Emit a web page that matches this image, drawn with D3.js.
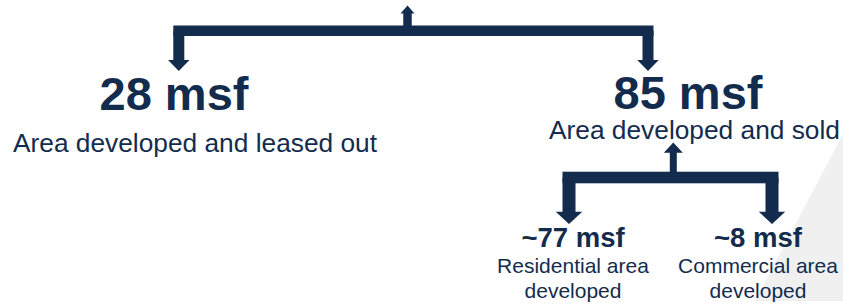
<!DOCTYPE html>
<html>
<head>
<meta charset="utf-8">
<script src="https://cdn.jsdelivr.net/npm/d3@7"></script>
<style>
  body { margin: 0; background: #fff; }
  svg { display: block; font-family: "Liberation Sans", Arial, sans-serif; }
</style>
</head>
<body>
<svg id="chart" width="843" height="307"></svg>
<script>
// values and captions of the breakdown
const totals = ["28 msf", "85 msf"];
const totalLabels = ["Area developed and leased out", "Area developed and sold"];
const splits = ["~77 msf", "~8 msf"];
const splitLabels = [["Residential area", "developed"], ["Commercial area", "developed"]];

const navy = "#132c4e";
const svg = d3.select("#chart");

// light grey wedge at the right edge
svg.append("path")
  .attr("d", d3.line()([[843, 134], [843, 301], [755, 301]]) + "Z")
  .attr("fill", "#f0f0f0");

// bracket: up arrow in the middle, bar, two down arrows
function bracket(g, o) {
  const line = d3.line();
  const h = o.bar / 2;
  // horizontal bar
  g.append("rect")
    .attr("x", o.x1 - o.leg / 2)
    .attr("y", o.barY)
    .attr("width", o.x2 - o.x1 + o.leg)
    .attr("height", o.bar)
    .attr("fill", navy);
  // up arrow
  const s = o.stem / 2, u = o.upHead / 2;
  g.append("path")
    .attr("d", line([
      [o.cx - s, o.barY + 1], [o.cx - s, o.upBase], [o.cx - u, o.upBase],
      [o.cx, o.upTip], [o.cx + u, o.upBase], [o.cx + s, o.upBase], [o.cx + s, o.barY + 1]
    ]) + "Z")
    .attr("fill", navy);
  // down arrows
  [o.x1, o.x2].forEach(x => {
    const l = o.leg / 2, d = o.downHead / 2;
    g.append("path")
      .attr("d", line([
        [x - l, o.barY + h], [x - l, o.downBase], [x - d, o.downBase],
        [x, o.downTip], [x + d, o.downBase], [x + l, o.downBase], [x + l, o.barY + h]
      ]) + "Z")
      .attr("fill", navy);
  });
}

bracket(svg.append("g"), {
  cx: 407.5, upTip: 5.5, upBase: 13.5, stem: 8.5, upHead: 14,
  barY: 25.5, bar: 10.5, x1: 178.8, x2: 648, leg: 11, downBase: 60, downHead: 21.5, downTip: 71
});
bracket(svg.append("g"), {
  cx: 673.3, upTip: 142.5, upBase: 152.7, stem: 7, upHead: 19,
  barY: 171.7, bar: 11.6, x1: 569, x2: 772, leg: 13, downBase: 211.7, downHead: 26.5, downTip: 224
});

// totals
const totalX = [174, 688];
const totalY = [110, 109];
const labelX = [195, 694.5];
const labelY = [151.7, 139.3];

svg.selectAll(".total")
  .data(totals)
  .join("text")
  .attr("class", "total")
  .attr("x", (d, i) => totalX[i])
  .attr("y", (d, i) => totalY[i])
  .attr("text-anchor", "middle")
  .attr("font-size", 47)
  .attr("font-weight", "bold")
  .attr("fill", navy)
  .text(d => d);

svg.selectAll(".total-label")
  .data(totalLabels)
  .join("text")
  .attr("class", "total-label")
  .attr("x", (d, i) => labelX[i])
  .attr("y", (d, i) => labelY[i])
  .attr("text-anchor", "middle")
  .attr("font-size", 26.3)
  .attr("fill", navy)
  .text(d => d);

// split of the sold area
const splitX = [573, 758];

svg.selectAll(".split")
  .data(splits)
  .join("text")
  .attr("class", "split")
  .attr("x", (d, i) => splitX[i])
  .attr("y", 246.7)
  .attr("text-anchor", "middle")
  .attr("font-size", 27.5)
  .attr("font-weight", "bold")
  .attr("fill", navy)
  .text(d => d);

svg.selectAll(".split-label")
  .data(splitLabels)
  .join("text")
  .attr("class", "split-label")
  .attr("x", (d, i) => splitX[i])
  .attr("y", 273.3)
  .attr("text-anchor", "middle")
  .attr("font-size", 21)
  .attr("fill", navy)
  .selectAll("tspan")
  .data(d => d)
  .join("tspan")
  .attr("x", function () { return d3.select(this.parentNode).attr("x"); })
  .attr("dy", (d, i) => i === 0 ? 0 : 25)
  .text(d => d);
</script>
</body>
</html>
